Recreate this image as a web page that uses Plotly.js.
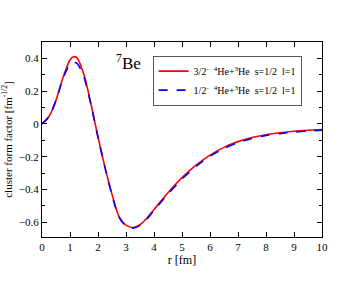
<!DOCTYPE html>
<html>
<head>
<meta charset="utf-8">
<script src="https://cdn.plot.ly/plotly-3.0.1.min.js"></script>
<style>html,body{margin:0;padding:0;background:#fff;}#chart{width:363px;height:281px;}</style>
</head>
<body>
<div id="chart"></div>
<script>
const r = [0, 0.25, 0.5, 0.75, 1.0, 1.12, 1.25, 1.5, 1.75, 2.0, 2.25, 2.5, 2.75, 3.0, 3.25, 3.5, 3.75, 4.0, 4.5, 5.0, 5.5, 6.0, 6.5, 7.0, 7.5, 8.0, 8.5, 9.0, 9.5, 10.0];
const red32 = [0, 0.045, 0.145, 0.283, 0.39, 0.41, 0.403, 0.30, 0.12, -0.08, -0.265, -0.43, -0.565, -0.618, -0.632, -0.614, -0.574, -0.522, -0.42, -0.328, -0.252, -0.19, -0.143, -0.108, -0.083, -0.066, -0.054, -0.045, -0.039, -0.034];
const blue12 = [0, 0.045, 0.143, 0.278, 0.365, 0.375, 0.37, 0.285, 0.115, -0.082, -0.267, -0.433, -0.568, -0.622, -0.636, -0.619, -0.58, -0.528, -0.428, -0.336, -0.26, -0.197, -0.15, -0.114, -0.089, -0.071, -0.059, -0.05, -0.043, -0.038];
const labels = ["3/2<sup>-</sup>\u00a0\u00a0<sup>4</sup>He+<sup>3</sup>He\u00a0\u00a0s=1/2\u00a0\u00a0l=1",
                "1/2<sup>-</sup>\u00a0\u00a0<sup>4</sup>He+<sup>3</sup>He\u00a0\u00a0s=1/2\u00a0\u00a0l=1"];
const serif = "Liberation Serif, Times New Roman, serif";

const traces = [
  {x: r, y: red32, name: labels[0], mode: 'lines', line: {color: '#ff0000', width: 1.6, shape: 'spline', smoothing: 0.8}},
  {x: r, y: blue12, name: labels[1], mode: 'lines', line: {color: '#0000ff', width: 1.6, dash: 'dash', shape: 'spline', smoothing: 0.8}}
];

const layout = {
  width: 363, height: 281,
  margin: {l: 42, r: 40.5, t: 42, b: 43.5},
  paper_bgcolor: '#fff', plot_bgcolor: '#fff',
  font: {family: serif, color: '#000', size: 11},
  showlegend: true,
  legend: {x: 0.395, y: 0.93, xanchor: 'left', yanchor: 'top', bordercolor: '#555', borderwidth: 1,
           bgcolor: '#fff', font: {family: serif, size: 10}, tracegroupgap: 0, itemwidth: 30},
  xaxis: {range: [0, 10], dtick: 1, tick0: 0, ticks: 'inside', ticklen: 5, tickcolor: '#000',
          showline: true, linecolor: '#000', linewidth: 1, mirror: 'allticks', showgrid: false, zeroline: false,
          tickfont: {family: serif, size: 11},
          title: {text: 'r [fm]', font: {family: serif, size: 12}, standoff: 0}},
  yaxis: {range: [-0.69, 0.5], dtick: 0.2, tick0: 0, ticks: 'inside', ticklen: 5, tickcolor: '#000',
          minor: {dtick: 0.1, tick0: 0, ticks: 'inside', ticklen: 3, tickcolor: '#000', showgrid: false},
          showline: true, linecolor: '#000', linewidth: 1, mirror: 'allticks', showgrid: false, zeroline: false,
          tickfont: {family: serif, size: 11},
          title: {text: 'cluster form factor [fm<sup>-1/2</sup>]', font: {family: serif, size: 11}, standoff: 5}},
  annotations: [
    {xref: 'paper', yref: 'paper', x: 0.31, y: 0.9, xanchor: 'center', yanchor: 'middle', showarrow: false,
     text: '<sup>7</sup>Be', font: {family: serif, size: 17, color: '#000'}}
  ]
};

Plotly.newPlot('chart', traces, layout, {displayModeBar: false, staticPlot: true});
</script>
</body>
</html>
